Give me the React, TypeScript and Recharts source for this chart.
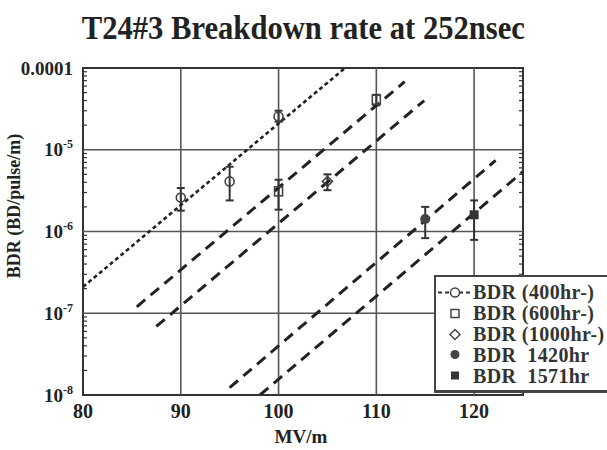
import React from 'react';
import { ComposedChart, XAxis, YAxis, Scatter, ErrorBar, ReferenceLine, ReferenceArea, Legend } from 'recharts';

// ---- axis ticks ----
const xTicks = [80, 90, 100, 110, 120];
const xGrid = [90, 100, 110, 120];
const yMajor = [1e-8, 1e-7, 1e-6, 1e-5, 1e-4];
const yExp = ['-8', '-7', '-6', '-5', '-4'];
const yGrid = [1e-7, 1e-6, 1e-5];

// ---- measured points (MV/m, BDR, lower, upper) ----
const mv400 = [90, 95, 100];
const bdr400 = [2.6e-6, 4.1e-6, 2.55e-5];
const lo400 = [1.8e-6, 2.4e-6, 2.2e-5];
const hi400 = [3.4e-6, 6.2e-6, 3.0e-5];

const mv600 = [100, 110];
const bdr600 = [3.1e-6, 4.1e-5];
const lo600 = [1.85e-6, 3.5e-5];
const hi600 = [4.3e-6, 4.7e-5];

const mv1000 = [105];
const bdr1000 = [4.1e-6];
const lo1000 = [3.2e-6];
const hi1000 = [5.0e-6];

const mv1420 = [115];
const bdr1420 = [1.42e-6];
const lo1420 = [8.3e-7];
const hi1420 = [2.0e-6];

const mv1571 = [120];
const bdr1571 = [1.6e-6];
const lo1571 = [7.9e-7];
const hi1571 = [2.4e-6];

// ---- fit lines (end points) ----
const fit1X = [80, 106.8];
const fit1Y = [2.1e-7, 1e-4];
const fit2X = [85.5, 112.9];
const fit2Y = [1.2e-7, 6.8e-5];
const fit3X = [87.5, 114.9];
const fit3Y = [6.9e-8, 4.0e-5];
const fit4X = [95, 122.2];
const fit4Y = [1.23e-8, 7.4e-6];
const fit5X = [98.1, 125];
const fit5Y = [1.0e-8, 5.4e-6];

const build = (xs: number[], ys: number[], lo: number[], hi: number[]) =>
  xs.map((x, i) => ({ x, y: ys[i], err: [ys[i] - lo[i], hi[i] - ys[i]] }));
const line = (xs: number[], ys: number[]) => xs.map((x, i) => ({ x, y: ys[i] }));

const d400 = build(mv400, bdr400, lo400, hi400);
const d600 = build(mv600, bdr600, lo600, hi600);
const d1000 = build(mv1000, bdr1000, lo1000, hi1000);
const d1420 = build(mv1420, bdr1420, lo1420, hi1420);
const d1571 = build(mv1571, bdr1571, lo1571, hi1571);

const yMinor: number[] = [];
yMajor.slice(0, 4).forEach((d) => {
  for (let m = 2; m <= 9; m++) yMinor.push(m * d);
});
const yAll = [...yMajor, ...yMinor];

const INK = '#333';
const FONT = '"Liberation Serif", "Times New Roman", serif';

const isMajor = (v: number) => yMajor.some((m) => Math.abs(m - v) / m < 1e-6);

const LeftTick = (props: any) => {
  const { x, y, payload } = props;
  const v = payload.value;
  const major = isMajor(v);
  const idx = yMajor.findIndex((m) => Math.abs(m - v) / m < 1e-6);
  return (
    <g>
      {!major && <line x1={x} x2={x + 4} y1={y} y2={y} stroke={INK} strokeWidth={1.2} />}
      {major && idx === 4 && (
        <text x={x - 10} y={y} dy="0.35em" textAnchor="end" fontFamily={FONT} fontWeight="bold" fontSize={19} fill="#222">
          0.0001
        </text>
      )}
      {major && idx < 4 && (
        <text x={x - 10} y={y} dy="0.35em" textAnchor="end" fontFamily={FONT} fontWeight="bold" fontSize={19} fill="#222">
          <tspan>10</tspan>
          <tspan dy={-8} fontSize={12}>{yExp[idx]}</tspan>
        </text>
      )}
    </g>
  );
};

const RightTick = (props: any) => {
  const { x, y, payload } = props;
  const major = isMajor(payload.value);
  if (major) return <g />;
  return <line x1={x} x2={x - 4} y1={y} y2={y} stroke={INK} strokeWidth={1.2} />;
};

const BottomTick = (props: any) => {
  const { x, y, payload } = props;
  return (
    <text x={x} y={y} dy={23} textAnchor="middle" fontFamily={FONT} fontWeight="bold" fontSize={20} fill="#222">
      {payload.value}
    </text>
  );
};

const OpenCircle = (p: any) => <circle cx={p.cx} cy={p.cy} r={4.5} fill="none" stroke="#444" strokeWidth={1.6} />;
const OpenSquare = (p: any) => <rect x={p.cx - 4} y={p.cy - 4.5} width={8} height={9} fill="none" stroke="#444" strokeWidth={1.6} />;
const OpenDiamond = (p: any) => (
  <polygon points={`${p.cx},${p.cy - 5} ${p.cx + 5},${p.cy} ${p.cx},${p.cy + 5} ${p.cx - 5},${p.cy}`} fill="none" stroke="#444" strokeWidth={1.6} />
);
const FilledCircle = (p: any) => <circle cx={p.cx} cy={p.cy} r={5} fill="#444" />;
const FilledSquare = (p: any) => <rect x={p.cx - 4.5} y={p.cy - 4.5} width={9} height={9} fill="#333" />;
const NoShape = () => <g />;

const legendItems = [
  { label: 'BDR (400hr-)', kind: 'line-circle' },
  { label: 'BDR (600hr-)', kind: 'square' },
  { label: 'BDR (1000hr-)', kind: 'diamond' },
  { label: 'BDR  1420hr', kind: 'fcircle' },
  { label: 'BDR  1571hr', kind: 'fsquare' },
];

const LegendSymbol = ({ kind }: { kind: string }) => (
  <svg width={37} height={21} style={{ display: 'block', flex: 'none' }}>
    {kind === 'line-circle' && (
      <>
        <line x1={2} x2={35} y1={10.5} y2={10.5} stroke="#333" strokeWidth={2} strokeDasharray="4 3" />
        <circle cx={19} cy={10.5} r={4.5} fill="#fff" stroke="#444" strokeWidth={1.5} />
      </>
    )}
    {kind === 'square' && <rect x={15} y={6.5} width={8} height={8} fill="none" stroke="#444" strokeWidth={1.5} />}
    {kind === 'diamond' && <polygon points="19,5.5 24,10.5 19,15.5 14,10.5" fill="none" stroke="#444" strokeWidth={1.5} />}
    {kind === 'fcircle' && <circle cx={19} cy={10.5} r={4.5} fill="#444" />}
    {kind === 'fsquare' && <rect x={15} y={6.5} width={8} height={8} fill="#333" />}
  </svg>
);

const LegendBox = () => (
  <div
    style={{
      border: '2px solid #444',
      borderBottomWidth: 3,
      background: '#fff',
      width: 200,
      height: 118,
      boxSizing: 'border-box',
      paddingTop: 5,
      margin: 0,
    }}
  >
    {legendItems.map((it) => (
      <div key={it.label} style={{ display: 'flex', alignItems: 'center', height: 20.8 }}>
        <LegendSymbol kind={it.kind} />
        <span
          style={{
            fontFamily: FONT,
            fontWeight: 'bold',
            fontSize: 20,
            letterSpacing: 0.4,
            color: '#333',
            whiteSpace: 'pre',
            lineHeight: '20px',
          }}
        >
          {it.label}
        </span>
      </div>
    ))}
  </div>
);

export default function App() {
  return (
    <div style={{ position: 'absolute', left: 0, top: 0, width: 607, height: 450, overflow: 'hidden', background: '#fff' }}>
      <div
        style={{
          position: 'absolute',
          left: 0,
          top: 11,
          width: 607,
          textAlign: 'center',
          fontFamily: FONT,
          fontWeight: 'bold',
          fontSize: 34,
          lineHeight: '34px',
          color: '#222',
          zIndex: 2,
          whiteSpace: 'nowrap',
          transform: 'scaleX(0.9)',
          transformOrigin: '302px 0',
        }}
      >
        T24#3 Breakdown rate at 252nsec
      </div>
      <div
        style={{
          position: 'absolute',
          left: 14 - 100,
          top: 206 - 12,
          width: 200,
          height: 24,
          lineHeight: '24px',
          textAlign: 'center',
          fontFamily: FONT,
          fontWeight: 'bold',
          fontSize: 18,
          color: '#222',
          transform: 'rotate(-90deg)',
          transformOrigin: '100px 12px',
          whiteSpace: 'nowrap',
          zIndex: 2,
        }}
      >
        BDR (BD/pulse/m)
      </div>
      <ComposedChart width={607} height={450} margin={{ top: 68, right: 64, bottom: 25, left: 10 }}>
        <XAxis
          type="number"
          dataKey="x"
          domain={[80, 125]}
          ticks={xTicks}
          interval={0}
          axisLine={false}
          tickLine={false}
          tickSize={0}
          tickMargin={0}
          height={30}
          tick={<BottomTick />}
          allowDataOverflow
          label={{
            content: (p: any) => {
              const vb = p.viewBox;
              return (
                <text x={vb.x + vb.width / 2 - 2} y={vb.y + 48} textAnchor="middle" fontFamily={FONT} fontWeight="bold" fontSize={19} fill="#222">
                  MV/m
                </text>
              );
            },
          }}
        />
        <YAxis
          type="number"
          dataKey="y"
          scale="log"
          domain={[1e-8, 1e-4]}
          ticks={yAll}
          interval={0}
          axisLine={false}
          tickLine={false}
          tickSize={0}
          tickMargin={0}
          width={73}
          tick={<LeftTick />}
          allowDataOverflow
        />
        <YAxis
          yAxisId="r"
          orientation="right"
          type="number"
          dataKey="y"
          scale="log"
          domain={[1e-8, 1e-4]}
          ticks={yAll}
          interval={0}
          axisLine={false}
          tickLine={false}
          tickSize={0}
          tickMargin={0}
          width={20}
          tick={<RightTick />}
          allowDataOverflow
        />

        {xGrid.map((v) => (
          <ReferenceLine key={'x' + v} x={v} stroke="#555" strokeWidth={1.6} />
        ))}
        {yGrid.map((v) => (
          <ReferenceLine key={'y' + v} y={v} stroke="#555" strokeWidth={1.6} />
        ))}
        <ReferenceArea x1={80} x2={125} y1={1e-8} y2={1e-4} fill="none" fillOpacity={0} stroke="#333" strokeWidth={2} />

        <Scatter data={line(fit1X, fit1Y)} shape={<NoShape />} line={{ stroke: '#222', strokeWidth: 2.6, strokeDasharray: '4 3' }} isAnimationActive={false} />
        <Scatter data={line(fit2X, fit2Y)} shape={<NoShape />} line={{ stroke: '#222', strokeWidth: 3, strokeDasharray: '11 7' }} isAnimationActive={false} />
        <Scatter data={line(fit3X, fit3Y)} shape={<NoShape />} line={{ stroke: '#222', strokeWidth: 3, strokeDasharray: '11 7' }} isAnimationActive={false} />
        <Scatter data={line(fit4X, fit4Y)} shape={<NoShape />} line={{ stroke: '#222', strokeWidth: 3, strokeDasharray: '11 7' }} isAnimationActive={false} />
        <Scatter data={line(fit5X, fit5Y)} shape={<NoShape />} line={{ stroke: '#222', strokeWidth: 3, strokeDasharray: '11 7' }} isAnimationActive={false} />

        <Scatter name="BDR (400hr-)" data={d400} shape={<OpenCircle />} isAnimationActive={false}>
          <ErrorBar dataKey="err" direction="y" width={4} stroke="#333" strokeWidth={2} />
        </Scatter>
        <Scatter name="BDR (600hr-)" data={d600} shape={<OpenSquare />} isAnimationActive={false}>
          <ErrorBar dataKey="err" direction="y" width={4} stroke="#333" strokeWidth={2} />
        </Scatter>
        <Scatter name="BDR (1000hr-)" data={d1000} shape={<OpenDiamond />} isAnimationActive={false}>
          <ErrorBar dataKey="err" direction="y" width={4} stroke="#333" strokeWidth={2} />
        </Scatter>
        <Scatter name="BDR 1420hr" data={d1420} shape={<FilledCircle />} isAnimationActive={false}>
          <ErrorBar dataKey="err" direction="y" width={4} stroke="#333" strokeWidth={2} />
        </Scatter>
        <Scatter name="BDR 1571hr" data={d1571} shape={<FilledSquare />} isAnimationActive={false}>
          <ErrorBar dataKey="err" direction="y" width={4} stroke="#333" strokeWidth={2} />
        </Scatter>

        <Legend
          layout="horizontal"
          align="center"
          verticalAlign="middle"
          content={<LegendBox />}
          wrapperStyle={{ left: 434, top: 275, width: 200, right: 'auto', bottom: 'auto', margin: 0, padding: 0 }}
        />
      </ComposedChart>
    </div>
  );
}
